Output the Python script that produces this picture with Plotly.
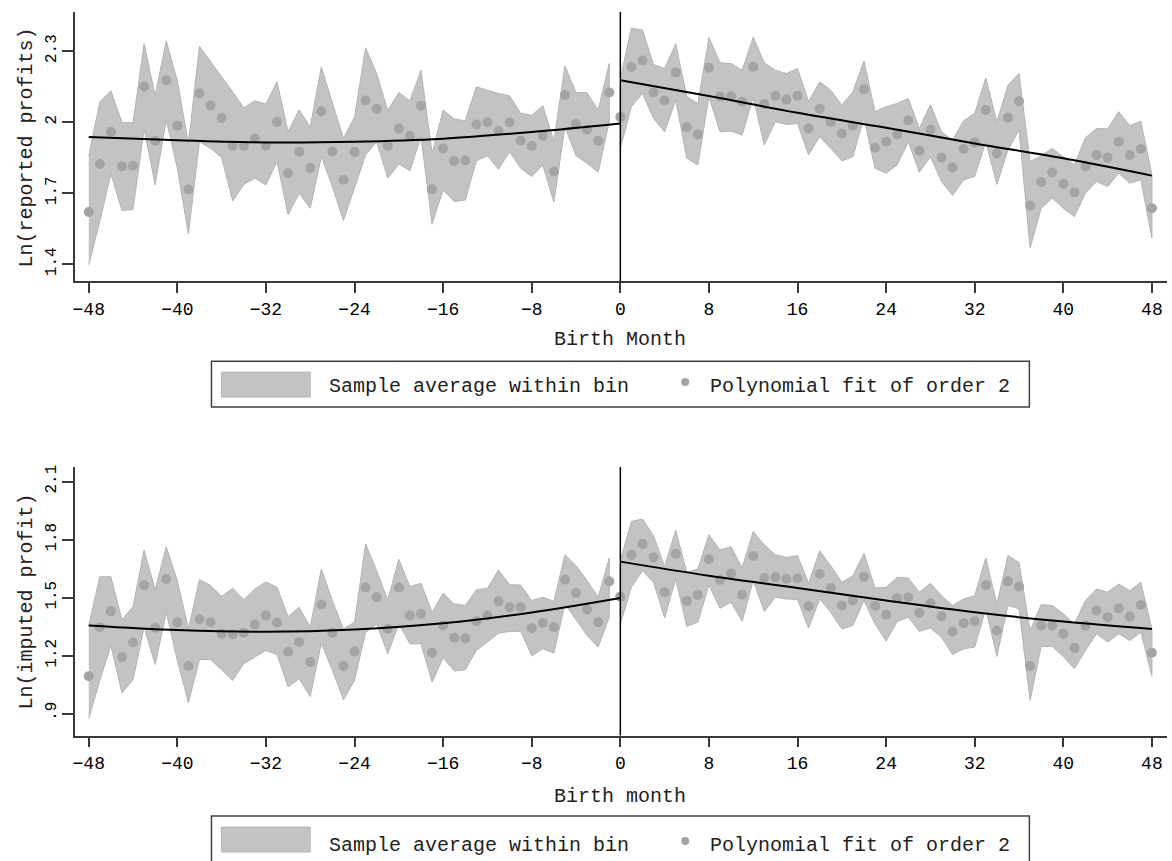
import plotly.graph_objects as go

W, H = 1172, 861
FONT = "Liberation Mono"

# ---------------- data ----------------
months_left = list(range(-48, 0))
months_right = list(range(0, 49))
fit_x_left = [-48, -40, -32, -24, -16, -8, 0]
fit_x_right = [0, 8, 16, 24, 32, 40, 48]
x_ticks = [-48, -40, -32, -24, -16, -8, 0, 8, 16, 24, 32, 40, 48]

# Top panel: Ln(reported profits)
top_left_dots = [1.620, 1.823, 1.959, 1.813, 1.816, 2.150, 1.920, 2.177, 1.985, 1.716,
                 2.121, 2.070, 2.017, 1.899, 1.899, 1.931, 1.900, 2.001, 1.784, 1.875,
                 1.806, 2.046, 1.876, 1.757, 1.874, 2.091, 2.055, 1.900, 1.973, 1.941,
                 2.069, 1.716, 1.889, 1.836, 1.839, 1.990, 1.999, 1.962, 1.999, 1.921,
                 1.899, 1.942, 1.791, 2.114, 1.993, 1.969, 1.921, 2.125]
top_left_upper = [1.857, 2.086, 2.132, 1.999, 1.997, 2.331, 2.112, 2.343, 2.174, 1.910,
                  2.320, 2.254, 2.191, 2.128, 2.060, 2.090, 2.076, 2.170, 1.959, 2.052,
                  1.979, 2.233, 2.086, 1.931, 2.022, 2.314, 2.205, 2.048, 2.125, 2.090,
                  2.219, 1.868, 2.051, 2.013, 2.006, 2.149, 2.135, 2.121, 2.111, 2.037,
                  2.029, 2.069, 1.920, 2.237, 2.125, 2.124, 2.051, 2.247]
top_left_lower = [1.398, 1.580, 1.782, 1.627, 1.631, 1.971, 1.735, 2.010, 1.805, 1.528,
                  1.917, 1.889, 1.850, 1.667, 1.737, 1.763, 1.735, 1.833, 1.608, 1.700,
                  1.636, 1.854, 1.728, 1.584, 1.721, 1.861, 1.917, 1.763, 1.823, 1.794,
                  1.938, 1.569, 1.714, 1.664, 1.671, 1.836, 1.858, 1.801, 1.875, 1.805,
                  1.770, 1.819, 1.662, 1.980, 1.858, 1.826, 1.788, 2.001]
top_right_dots = [2.022, 2.233, 2.260, 2.125, 2.091, 2.209, 1.978, 1.948, 2.230, 2.108,
                  2.108, 2.086, 2.234, 2.076, 2.111, 2.095, 2.111, 1.973, 2.056, 2.001,
                  1.952, 1.985, 2.139, 1.892, 1.917, 1.948, 2.008, 1.879, 1.969, 1.850,
                  1.808, 1.886, 1.914, 2.051, 1.867, 2.018, 2.088, 1.648, 1.747, 1.787,
                  1.740, 1.704, 1.813, 1.861, 1.850, 1.917, 1.861, 1.886, 1.636]
top_right_upper = [2.184, 2.397, 2.389, 2.243, 2.226, 2.331, 2.107, 2.079, 2.357, 2.251,
                   2.247, 2.219, 2.359, 2.250, 2.219, 2.205, 2.226, 2.086, 2.170, 2.135,
                   2.072, 2.128, 2.258, 2.044, 2.065, 2.079, 2.100, 1.973, 2.074, 1.959,
                   1.924, 2.006, 2.037, 2.187, 2.001, 2.156, 2.205, 1.833, 1.858, 1.889,
                   1.854, 1.819, 1.934, 1.973, 1.971, 2.044, 1.985, 2.004, 1.777]
top_right_lower = [1.889, 2.065, 2.121, 2.015, 1.959, 2.093, 1.847, 1.819, 2.107, 1.959,
                   1.962, 1.945, 2.104, 1.903, 2.001, 1.990, 1.994, 1.861, 1.938, 1.889,
                   1.836, 1.854, 2.018, 1.805, 1.784, 1.819, 1.917, 1.788, 1.854, 1.749,
                   1.690, 1.756, 1.770, 1.917, 1.737, 1.882, 1.966, 1.468, 1.636, 1.679,
                   1.636, 1.601, 1.700, 1.749, 1.728, 1.784, 1.742, 1.756, 1.510]
top_fit_left = [1.937, 1.923, 1.914, 1.917, 1.930, 1.958, 1.994]
top_fit_right = [2.177, 2.110, 2.039, 1.976, 1.910, 1.847, 1.774]

# Bottom panel: Ln(imputed profit)
bot_left_dots = [1.093, 1.347, 1.430, 1.192, 1.268, 1.564, 1.344, 1.596, 1.371, 1.146,
                 1.388, 1.373, 1.313, 1.309, 1.318, 1.361, 1.407, 1.371, 1.220, 1.271,
                 1.167, 1.464, 1.318, 1.146, 1.222, 1.552, 1.502, 1.338, 1.552, 1.407,
                 1.416, 1.215, 1.356, 1.292, 1.289, 1.378, 1.407, 1.481, 1.450, 1.450,
                 1.342, 1.369, 1.347, 1.593, 1.524, 1.438, 1.373, 1.584]
bot_left_upper = [1.356, 1.608, 1.608, 1.385, 1.454, 1.746, 1.540, 1.763, 1.588, 1.338,
                  1.593, 1.562, 1.507, 1.548, 1.490, 1.545, 1.581, 1.553, 1.402, 1.450,
                  1.347, 1.648, 1.485, 1.338, 1.373, 1.777, 1.639, 1.488, 1.698, 1.557,
                  1.574, 1.424, 1.522, 1.467, 1.459, 1.540, 1.548, 1.643, 1.567, 1.565,
                  1.485, 1.502, 1.481, 1.722, 1.665, 1.588, 1.502, 1.705]
bot_left_lower = [0.874, 1.072, 1.252, 1.007, 1.075, 1.347, 1.154, 1.424, 1.175, 0.957,
                  1.180, 1.180, 1.124, 1.072, 1.158, 1.192, 1.227, 1.206, 1.038, 1.081,
                  0.989, 1.264, 1.124, 0.972, 1.072, 1.321, 1.364, 1.209, 1.364, 1.261,
                  1.261, 1.063, 1.189, 1.120, 1.127, 1.227, 1.270, 1.316, 1.325, 1.326,
                  1.199, 1.235, 1.213, 1.467, 1.385, 1.304, 1.244, 1.399]
bot_right_dots = [1.505, 1.720, 1.777, 1.708, 1.528, 1.725, 1.483, 1.514, 1.698, 1.591,
                  1.625, 1.515, 1.715, 1.601, 1.605, 1.596, 1.600, 1.455, 1.622, 1.550,
                  1.459, 1.485, 1.608, 1.457, 1.411, 1.497, 1.502, 1.421, 1.471, 1.404,
                  1.325, 1.368, 1.378, 1.565, 1.330, 1.584, 1.557, 1.146, 1.356, 1.356,
                  1.313, 1.239, 1.354, 1.433, 1.399, 1.445, 1.402, 1.462, 1.215]
bot_right_upper = [1.691, 1.894, 1.906, 1.820, 1.660, 1.849, 1.631, 1.648, 1.825, 1.746,
                   1.763, 1.653, 1.842, 1.773, 1.722, 1.708, 1.717, 1.574, 1.742, 1.665,
                   1.579, 1.613, 1.729, 1.550, 1.553, 1.605, 1.601, 1.528, 1.574, 1.510,
                   1.459, 1.493, 1.510, 1.705, 1.467, 1.717, 1.682, 1.330, 1.464, 1.459,
                   1.416, 1.364, 1.485, 1.545, 1.528, 1.570, 1.536, 1.579, 1.338]
bot_right_lower = [1.364, 1.553, 1.639, 1.579, 1.395, 1.596, 1.352, 1.373, 1.565, 1.445,
                   1.476, 1.378, 1.588, 1.428, 1.502, 1.493, 1.490, 1.342, 1.493, 1.424,
                   1.338, 1.356, 1.485, 1.364, 1.275, 1.376, 1.399, 1.326, 1.342, 1.295,
                   1.206, 1.235, 1.244, 1.442, 1.196, 1.459, 1.442, 0.969, 1.247, 1.247,
                   1.196, 1.132, 1.227, 1.313, 1.270, 1.313, 1.278, 1.321, 1.093]
bot_fit_left = [1.356, 1.332, 1.323, 1.335, 1.367, 1.423, 1.498]
bot_fit_right = [1.686, 1.613, 1.550, 1.485, 1.424, 1.376, 1.338]

top_yticks = [1.4, 1.7, 2.0, 2.3]
top_yticktext = ["1.4", "1.7", "2", "2.3"]
bot_yticks = [0.9, 1.2, 1.5, 1.8, 2.1]
bot_yticktext = [".9", "1.2", "1.5", "1.8", "2.1"]

# ---------------- styles ----------------
BAND_FILL = "#c3c3c3"
BAND_LINE = "#b3b3b3"
DOT = "#a4a4a4"
AX = "#3a3a3a"

fig = go.Figure()


def add_panel(xa, ya, lx, ld, lu, ll, rx, rd, ru, rl, fl, fr):
    for xs, up, lo in ((lx, lu, ll), (rx, ru, rl)):
        fig.add_trace(go.Scatter(
            x=list(xs) + list(xs)[::-1], y=list(up) + list(lo)[::-1],
            fill="toself", fillcolor=BAND_FILL, mode="lines",
            line=dict(color=BAND_LINE, width=1), xaxis=xa, yaxis=ya,
            hoverinfo="skip", showlegend=False))
    for xs, ds in ((lx, ld), (rx, rd)):
        fig.add_trace(go.Scatter(
            x=list(xs), y=list(ds), mode="markers",
            marker=dict(color=DOT, size=10, line=dict(width=0)),
            xaxis=xa, yaxis=ya, showlegend=False))
    for xs, fs in ((fit_x_left, fl), (fit_x_right, fr)):
        fig.add_trace(go.Scatter(
            x=xs, y=fs, mode="lines", line=dict(color="black", width=2, shape="spline"),
            xaxis=xa, yaxis=ya, showlegend=False))


add_panel("x", "y", months_left, top_left_dots, top_left_upper, top_left_lower,
          months_right, top_right_dots, top_right_upper, top_right_lower,
          top_fit_left, top_fit_right)
add_panel("x2", "y2", months_left, bot_left_dots, bot_left_upper, bot_left_lower,
          months_right, bot_right_dots, bot_right_upper, bot_right_lower,
          bot_fit_left, bot_fit_right)


def px_x(p):
    return p / W


def px_y(p):
    return 1 - p / H


xdom = [px_x(72.3), px_x(1167.3)]
xrange_ = [-49.23, 49.39]

xcommon = dict(domain=xdom, range=xrange_, tickvals=x_ticks,
               showline=True, linecolor=AX, linewidth=1.5, ticks="outside", ticklen=10,
               tickwidth=1.5, tickcolor=AX, showgrid=False, zeroline=False,
               tickfont=dict(family=FONT, size=18, color="black"))
ycommon = dict(showline=True, linecolor=AX, linewidth=1.5, ticks="outside", ticklen=11,
               tickwidth=1.5, tickcolor=AX, showgrid=False, zeroline=False, tickangle=-90,
               tickfont=dict(family=FONT, size=16, color="black"))

fig.update_layout(
    width=W, height=H, autosize=False,
    margin=dict(l=0, r=0, t=0, b=0),
    paper_bgcolor="white", plot_bgcolor="white",
    showlegend=False,
    xaxis=dict(anchor="y", **xcommon),
    yaxis=dict(anchor="x", domain=[px_y(280), px_y(10)], range=[1.3275, 2.465],
               tickvals=top_yticks, ticktext=top_yticktext, **ycommon),
    xaxis2=dict(anchor="y2", **xcommon),
    yaxis2=dict(anchor="x2", domain=[px_y(735.3), px_y(466)], range=[0.7866, 2.1756],
                tickvals=bot_yticks, ticktext=bot_yticktext, **ycommon),
)

# cutoff lines
for xr, yr in (("x", "y domain"), ("x2", "y2 domain")):
    fig.add_shape(type="line", xref=xr, yref=yr, x0=0, x1=0, y0=0, y1=1,
                  line=dict(color="black", width=1.5), layer="above")

annotations = []


def ann(text, x, y, size=20, color="#222", xanchor="center", angle=0):
    annotations.append(dict(text=text, x=px_x(x), y=px_y(y), xref="paper", yref="paper",
                            xanchor=xanchor, yanchor="middle", showarrow=False,
                            textangle=angle, font=dict(family=FONT, size=size, color=color)))


# axis titles
ann("Birth Month", 619, 338)
ann("Birth month", 619, 796)
ann("Ln(reported profits)", 24, 146, color="#2a2222", angle=-90)
ann("Ln(imputed profit)", 24, 601, color="#2a2222", angle=-90)

# manual legends
legend_specs = [(360, 406, 371, 396, 385), (816, 875, 827, 852, 845)]
for (b0, b1, s0, s1, ty) in legend_specs:
    fig.add_shape(type="rect", xref="paper", yref="paper",
                  x0=px_x(209), x1=px_x(1029), y0=px_y(b1), y1=px_y(b0),
                  line=dict(color="#404040", width=1.5), fillcolor="white", layer="below")
    fig.add_shape(type="rect", xref="paper", yref="paper",
                  x0=px_x(219), x1=px_x(308), y0=px_y(s1), y1=px_y(s0),
                  line=dict(color=BAND_LINE, width=1), fillcolor=BAND_FILL)
    fig.add_shape(type="circle", xref="paper", yref="paper", xsizemode="pixel",
                  ysizemode="pixel", xanchor=px_x(684), yanchor=px_y(ty - 4),
                  x0=-4, x1=4, y0=-4, y1=4, line=dict(width=0), fillcolor=DOT)
    ann("Sample average within bin", 325, ty, xanchor="left")
    ann("Polynomial fit of order 2", 707, ty, xanchor="left")

fig.update_layout(annotations=annotations)
fig.write_html("out.html")
